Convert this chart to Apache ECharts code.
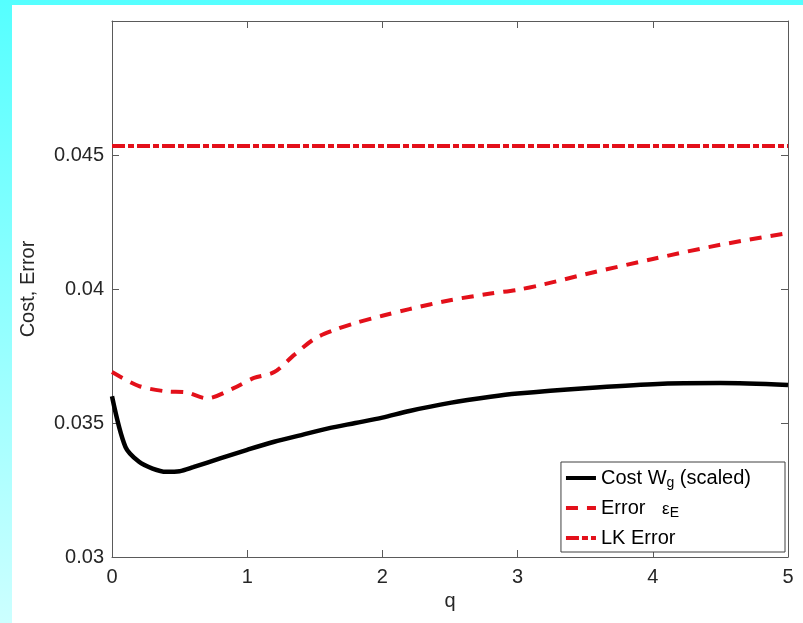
<!DOCTYPE html>
<html>
<head>
<meta charset="utf-8">
<script src="https://cdn.jsdelivr.net/npm/echarts@6/dist/echarts.min.js"></script>
<style>
html,body{margin:0;padding:0;}
#c{width:803px;height:623px;}
</style>
</head>
<body>
<div id="c"></div>
<script>
// Data
const costQ = [0, 0.1, 0.2, 0.3, 0.4, 0.5, 0.6, 0.8, 1.0, 1.2, 1.4, 1.6, 1.8, 2.0, 2.2, 2.5, 2.8, 3.0, 3.5, 4.0, 4.5, 5.0];
const costV = [0.0360, 0.0341, 0.03355, 0.0333, 0.03318, 0.0332, 0.03335, 0.03368, 0.0340, 0.0343, 0.03455, 0.0348, 0.0350, 0.0352, 0.03545, 0.03575, 0.03598, 0.0361, 0.0363, 0.03645, 0.03649, 0.03642];
const errQ = [0, 0.2, 0.4, 0.55, 0.7, 0.9, 1.05, 1.2, 1.35, 1.5, 1.65, 1.8, 2.0, 2.2, 2.5, 2.8, 3.0, 3.2, 3.5, 4.0, 4.5, 5.0];
const errV = [0.0369, 0.03638, 0.03618, 0.03614, 0.03592, 0.0363, 0.03668, 0.0369, 0.03755, 0.03815, 0.03848, 0.03873, 0.039, 0.03925, 0.03958, 0.03983, 0.03997, 0.04018, 0.04055, 0.04112, 0.04165, 0.04209];
const lkQ = [0, 5];
const lkV = [0.04534, 0.04534];
const xTicks = [0, 1, 2, 3, 4, 5];
const yTicks = [0.03, 0.035, 0.04, 0.045];
const seriesNames = ['Cost W_g (scaled)', 'Error  ε_E', 'LK Error'];

const FONT = "'Liberation Sans', Arial, sans-serif";
const AX = '#5a5a5a';
const TXT = '#262626';
const RED = '#e3101a';
const FS = 20;

function pairs(q, v) { return q.map((x, i) => [x, v[i]]); }

const chart = echarts.init(document.getElementById('c'), null, {renderer: 'canvas'});
const baseX = {
  type: 'value', min: xTicks[0], max: xTicks[xTicks.length - 1], interval: 1,
  splitLine: {show: false},
  axisLine: {show: true, onZero: false, lineStyle: {color: AX, width: 1}},
  axisTick: {show: true, inside: true, length: 7, lineStyle: {color: AX}}
};
const baseY = {
  type: 'value', min: 0.03, max: 0.05, interval: 0.005,
  splitLine: {show: false},
  axisLine: {show: true, onZero: false, lineStyle: {color: AX, width: 1}},
  axisTick: {show: true, inside: true, length: 7, lineStyle: {color: AX}}
};

chart.setOption({
  animation: false,
  backgroundColor: new echarts.graphic.LinearGradient(0, 0, 0, 1, [
    {offset: 0, color: '#55ffff'},
    {offset: 1, color: '#ccffff'}
  ]),
  graphic: [{
    type: 'rect', left: 12, top: 5, z: -10,
    shape: {width: 791, height: 618},
    style: {fill: '#ffffff'}
  }],
  grid: {left: 112, right: 15, top: 21, bottom: 66, containLabel: false},
  xAxis: [
    Object.assign({}, baseX, {
      position: 'bottom',
      name: 'q', nameLocation: 'middle', nameGap: 34,
      nameTextStyle: {color: TXT, fontSize: FS, fontFamily: FONT},
      axisLabel: {color: TXT, fontSize: FS, fontFamily: FONT, margin: 10,
        formatter: v => xTicks.includes(v) ? String(v) : ''}
    }),
    Object.assign({}, baseX, {position: 'top', axisLabel: {show: false}})
  ],
  yAxis: [
    Object.assign({}, baseY, {
      position: 'left',
      name: 'Cost, Error', nameLocation: 'middle', nameGap: 74,
      nameTextStyle: {color: TXT, fontSize: FS, fontFamily: FONT},
      axisLabel: {color: TXT, fontSize: FS, fontFamily: FONT, margin: 8,
        formatter: v => {
          const r = +v.toFixed(3);
          return yTicks.some(t => Math.abs(t - r) < 1e-9) ? String(r) : '';
        }}
    }),
    Object.assign({}, baseY, {position: 'right', axisLabel: {show: false}})
  ],
  legend: {
    orient: 'vertical', right: 18, bottom: 71,
    backgroundColor: '#ffffff', borderColor: '#404040', borderWidth: 1, borderRadius: 0,
    padding: [6, 34, 4, 3], itemGap: 8, itemWidth: 30, itemHeight: 14,
    itemStyle: {opacity: 0},
    lineStyle: {width: 4},
    data: seriesNames,
    textStyle: {color: '#000', fontSize: FS, fontFamily: FONT,
      rich: {
        sub: {fontSize: 14, fontFamily: FONT, color: '#000', padding: [10, 0, 0, 0]},
        eps: {fontSize: 17, fontFamily: FONT, color: '#000', padding: [2, 0, 0, 0]},
        t: {fontSize: FS, fontFamily: FONT, color: '#000'}
      }},
    formatter: name => {
      if (name === seriesNames[0]) return '{t|Cost W}{sub|g}{t| (scaled)}';
      if (name === seriesNames[1]) return '{t|Error   }{eps|ε}{sub|E}';
      return '{t|LK Error}';
    }
  },
  series: [
    {name: seriesNames[0], type: 'line', xAxisIndex: 0, yAxisIndex: 0, data: pairs(costQ, costV),
      symbol: 'none', smooth: 0.3, lineStyle: {color: '#000', width: 4.5}, itemStyle: {color: '#000'}, z: 3},
    {name: seriesNames[1], type: 'line', xAxisIndex: 0, yAxisIndex: 0, data: pairs(errQ, errV),
      symbol: 'none', smooth: 0.3, lineStyle: {color: RED, width: 4, type: [12, 9]}, itemStyle: {color: RED}, z: 2},
    {name: seriesNames[2], type: 'line', xAxisIndex: 0, yAxisIndex: 0, data: pairs(lkQ, lkV),
      symbol: 'none', lineStyle: {color: RED, width: 4, type: [13, 3, 6, 3]}, itemStyle: {color: RED}, z: 2}
  ]
});
</script>
</body>
</html>
